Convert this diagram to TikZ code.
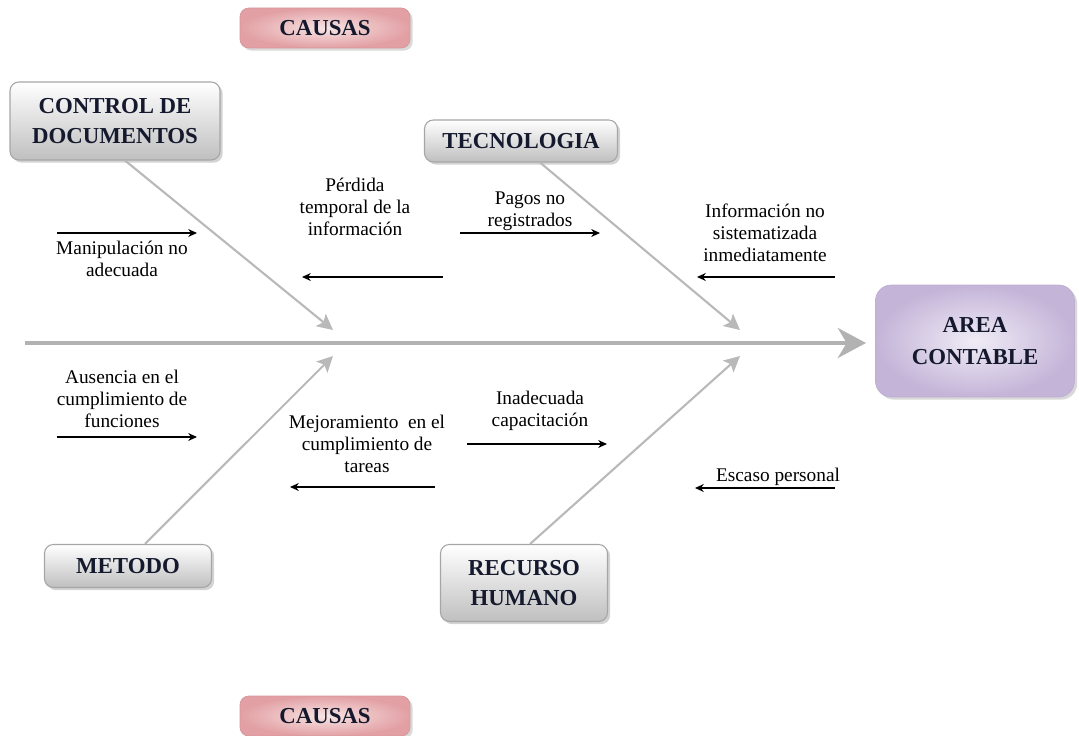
\documentclass[tikz,border=0pt]{standalone}
\usepackage{fontspec}
\setmainfont{Liberation Serif}
\usetikzlibrary{positioning,calc,shadows,arrows.meta}
\definecolor{lavlight}{RGB}{240,236,246}
\definecolor{lavdark}{RGB}{196,180,216}
\definecolor{lavline}{RGB}{190,175,210}
\definecolor{pinklight}{RGB}{248,228,228}
\definecolor{pinkdark}{RGB}{226,160,164}
\definecolor{pinkline}{RGB}{215,150,155}
\definecolor{boxtext}{RGB}{20,25,45}

\begin{document}
\begin{tikzpicture}[x=0.02cm, y=-0.02cm,
    causebox/.style={draw=gray!70, rounded corners=5pt, top color=white, bottom color=gray!50,
        font=\fontsize{13}{17}\selectfont\bfseries, text=boxtext, align=center, line width=0.6pt,
        drop shadow={opacity=0.35, shadow xshift=1.5pt, shadow yshift=-1.5pt}},
    headbox/.style={draw=pinkline, rounded corners=5pt, shading=radial,
        inner color=pinklight, outer color=pinkdark,
        font=\fontsize{13}{17}\selectfont\bfseries, text=boxtext, minimum width=3.4cm, minimum height=0.8cm,
        drop shadow={opacity=0.3, shadow xshift=1.5pt, shadow yshift=-1.5pt}},
    effectbox/.style={draw=lavline, rounded corners=9pt, shading=radial,
        inner color=lavlight, outer color=lavdark,
        font=\fontsize{13}{18}\selectfont\bfseries, text=boxtext, align=center,
        minimum width=3.98cm, minimum height=2.24cm,
        drop shadow={opacity=0.3, shadow xshift=1.5pt, shadow yshift=-1.5pt}},
    spine/.style={draw=gray!60, line width=2.8pt, -{Stealth[length=16pt, width=17pt, inset=5pt]}},
    bone/.style={draw=gray!55, line width=1.2pt, -{Stealth[length=9pt, width=9pt, inset=2pt]}},
    sub/.style={draw=black, line width=0.7pt, -{Stealth[length=5pt, width=4.5pt]}},
    txt/.style={font=\fontsize{11}{12.5}\selectfont, align=center}
]
\useasboundingbox (0,0) rectangle (1079,736);

% Headers
\node[headbox] (causasA) at (325,28) {CAUSAS};
\node[headbox] (causasB) at (325,716) {CAUSAS};

% Cause boxes
\node[causebox, minimum width=4.2cm, minimum height=1.56cm] (control) at (115,121) {CONTROL DE\\DOCUMENTOS};
\node[causebox, minimum width=3.86cm, minimum height=0.84cm] (tecno) at (521,141) {TECNOLOGIA};
\node[causebox, minimum width=3.34cm, minimum height=0.86cm] (metodo) at (128,566) {METODO};
\node[causebox, minimum width=3.34cm, minimum height=1.54cm] (recurso) at (524,583) {RECURSO\\HUMANO};

% Effect
\node[effectbox] (area) at (975,341) {AREA\\CONTABLE};

% Spine and bones
\coordinate (tail) at (25,343);
\coordinate (head) at (866,343);
\draw[spine] (tail) -- (head);

\coordinate (jA) at (333,330);
\coordinate (jB) at (740,330);
\coordinate (jC) at (333,356);
\coordinate (jD) at (740,356);
\draw[bone] (control.south -| 125,0) -- (jA);
\draw[bone] (tecno.south -| 540,0) -- (jB);
\draw[bone] (metodo.north -| 145,0) -- (jC);
\draw[bone] (recurso.north -| 530,0) -- (jD);

% Upper sub-causes
\coordinate (a1) at (57,233);  \coordinate (a2) at (197,233);
\draw[sub] (a1) -- (a2);
\node[txt] (manip) at (122,259) {Manipulación no\\adecuada};

\coordinate (b1) at (443,277); \coordinate (b2) at (302,277);
\draw[sub] (b1) -- (b2);
\node[txt] (perdida) at (355,207) {Pérdida\\temporal de la\\información};

\coordinate (c1) at (460,233); \coordinate (c2) at (600,233);
\draw[sub] (c1) -- (c2);
\node[txt] (pagos) at (530,211) {Pagos no\\registrados};

\coordinate (d1) at (835,277); \coordinate (d2) at (697,277);
\draw[sub] (d1) -- (d2);
\node[txt] (infor) at (765,233) {Información no\\sistematizada\\inmediatamente};

% Lower sub-causes
\coordinate (e1) at (57,437);  \coordinate (e2) at (197,437);
\draw[sub] (e1) -- (e2);
\node[txt] (ausencia) at (122,399) {Ausencia en el\\cumplimiento de\\funciones};

\coordinate (f1) at (435,487); \coordinate (f2) at (290,487);
\draw[sub] (f1) -- (f2);
\node[txt] (mejora) at (367,444) {Mejoramiento~ en el\\cumplimiento de\\tareas};

\coordinate (g1) at (467,444); \coordinate (g2) at (607,444);
\draw[sub] (g1) -- (g2);
\node[txt] (inade) at (540,411) {Inadecuada\\capacitación};

\coordinate (h1) at (835,488); \coordinate (h2) at (695,488);
\draw[sub] (h1) -- (h2);
\node[txt] (escaso) at (778,477) {Escaso personal};

\end{tikzpicture}
\end{document}
